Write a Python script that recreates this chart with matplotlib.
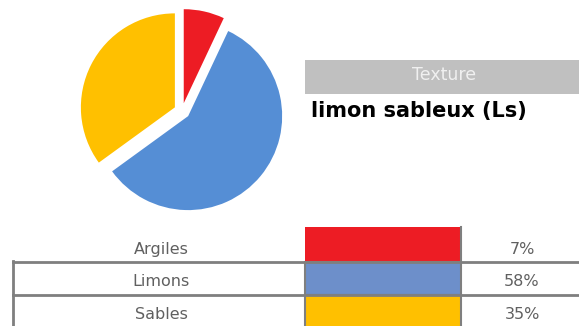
import matplotlib
matplotlib.use("Agg")
import matplotlib.pyplot as plt
from matplotlib.patches import Rectangle

categories = ["Argiles", "Limons", "Sables"]
values = [7, 58, 35]
pie_colors = ["#ED1C24", "#558ED5", "#FFC000"]
table_colors = ["#ED1C24", "#6D8FCA", "#FFC000"]
texture_header = "Texture"
texture_name = "limon sableux (Ls)"

W, H = 579, 326
fig = plt.figure(figsize=(W / 100, H / 100), dpi=100)
ax = fig.add_axes([0, 0, 1, 1])
ax.set_xlim(0, W)
ax.set_ylim(H, 0)
ax.axis("off")

# pie in its own axes (pixel-based placement)
r = 94
cx, cy = 182, 111
pad = 12
pax = fig.add_axes([(cx - r - pad) / W, 1 - (cy + r + pad) / H,
                    (2 * r + 2 * pad) / W, (2 * r + 2 * pad) / H])
pax.pie(values, colors=pie_colors, startangle=90, counterclock=False,
        explode=[0.085] * 3, radius=1.0,
        wedgeprops=dict(linewidth=0))
lim = (r + pad) / r
pax.set_xlim(-lim, lim)
pax.set_ylim(-lim, lim)
pax.set_aspect("equal")
pax.axis("off")

# Texture header
ax.add_patch(Rectangle((305, 60), W - 305, 34, facecolor="#C0C0C0", edgecolor="none"))
ax.text(444, 80, texture_header, ha="center", va="baseline", color="#F0F0F0",
        fontsize=12.5, family="DejaVu Sans")
ax.text(311, 117, texture_name, ha="left", va="baseline", color="black",
        fontsize=15, fontweight="bold", family="DejaVu Sans")

# table
line_c = "#7F7F7F"
text_c = "#606060"
row_top = [227, 262, 295]
row_h = [35, 33, 33]
baselines = [254, 286, 319]
for i, (cat, v) in enumerate(zip(categories, values)):
    y0 = row_top[i]
    h = row_h[i] if i < 2 else H - y0 + 5
    ax.add_patch(Rectangle((305, y0), 156, h, facecolor=table_colors[i],
                           edgecolor=line_c if i > 0 else "none", linewidth=1.5))
    ax.text(161, baselines[i], cat, ha="center", va="baseline", color=text_c,
            fontsize=11.5, family="DejaVu Sans")
    ax.text(522, baselines[i], f"{v}%", ha="center", va="baseline", color=text_c,
            fontsize=11.5, family="DejaVu Sans")

ax.plot([461, 461], [227, 262], color=line_c, lw=1.5)
for y in [262, 295]:
    ax.plot([13, W], [y, y], color=line_c, lw=2)
ax.plot([13, 13], [261, H], color=line_c, lw=2)

fig.savefig("out.png", dpi=100)
